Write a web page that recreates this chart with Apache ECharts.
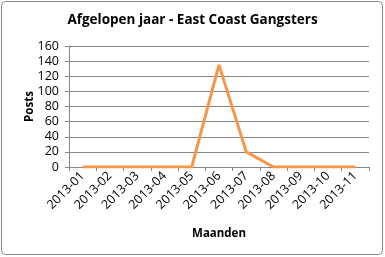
<!DOCTYPE html>
<html><head><meta charset="utf-8">
<script src="https://cdn.jsdelivr.net/npm/echarts@6/dist/echarts.min.js"></script>
<style>html,body{margin:0;padding:0;background:#fff}#c{width:385px;height:257px}</style>
</head><body><div id="c"></div>
<script>
const categories = ['2013-01','2013-02','2013-03','2013-04','2013-05','2013-06','2013-07','2013-08','2013-09','2013-10','2013-11'];
const posts = [0,0,0,0,0,135,20,0,0,0,0];
const titleText = 'Afgelopen jaar - East Coast Gangsters';
const F = '"Open Sans", "Liberation Sans", sans-serif';
const chart = echarts.init(document.getElementById('c'));
chart.setOption({
  animation:false,
  graphic:[{type:'rect',shape:{x:1.5,y:1.5,width:381,height:253,r:4},style:{fill:'#fff',stroke:'#868686',lineWidth:1},z:-1}],
  title:{text:titleText,left:'center',top:8,textStyle:{fontFamily:F,fontSize:13.5,fontWeight:'bold',color:'#000'}},
  grid:{left:69,right:16,top:46,bottom:90},
  xAxis:{type:'category',data:categories,boundaryGap:true,
    name:'Maanden',nameLocation:'middle',nameGap:61,nameMoveOverlap:false,
    nameTextStyle:{fontFamily:F,fontSize:11.5,fontWeight:'bold',color:'#000'},
    axisLine:{lineStyle:{color:'#868686'}},
    axisTick:{show:true,alignWithLabel:false,length:4,lineStyle:{color:'#868686'}},
    axisLabel:{rotate:45,fontFamily:F,fontSize:12.5,color:'#000',margin:7,interval:0}},
  yAxis:{type:'value',min:0,max:160,interval:20,
    name:'Posts',nameLocation:'middle',nameGap:33,nameMoveOverlap:false,
    nameTextStyle:{fontFamily:F,fontSize:11.5,fontWeight:'bold',color:'#000'},
    axisLine:{show:true,lineStyle:{color:'#868686'}},
    axisTick:{show:true,length:4,lineStyle:{color:'#868686'}},
    splitLine:{lineStyle:{color:'#868686'}},
    axisLabel:{fontFamily:F,fontSize:12.5,color:'#000',margin:10}},
  series:[{type:'line',data:posts,symbol:'none',lineStyle:{color:'#F79646',width:3},itemStyle:{color:'#F79646'}}]
});
</script></body></html>
